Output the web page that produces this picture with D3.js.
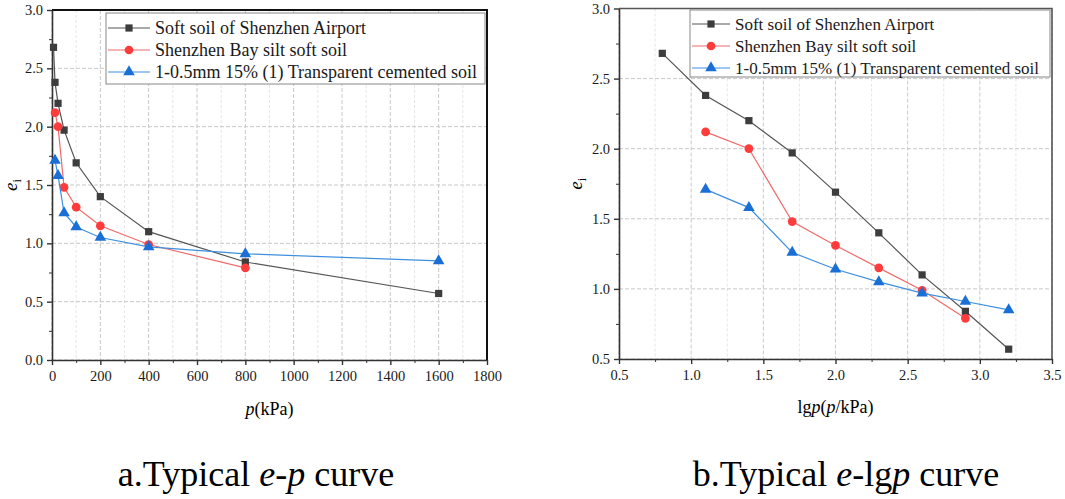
<!DOCTYPE html>
<html>
<head>
<meta charset="utf-8">
<script src="https://d3js.org/d3.v7.min.js"></script>
<style>
  body { margin: 0; background: #fff; }
</style>
</head>
<body>
<div id="chart"></div>
<script>
// load steps (kPa) and their lg values
var pressure = [6.25, 12.5, 25, 50, 100, 200, 400, 800, 1600];
var lgPressure = [0.8, 1.1, 1.4, 1.7, 2.0, 2.3, 2.6, 2.9, 3.2];

// void ratio e_i for each series (null = not measured)
var airportE = [2.68, 2.38, 2.20, 1.97, 1.69, 1.40, 1.10, 0.84, 0.57];
var bayE = [null, 2.12, 2.00, 1.48, 1.31, 1.15, 0.99, 0.79, null];
var cementedE = [null, 1.71, 1.58, 1.26, 1.14, 1.05, 0.97, 0.91, 0.85];

var seriesNames = [
    "Soft soil of Shenzhen Airport",
    "Shenzhen Bay silt soft soil",
    "1-0.5mm 15% (1) Transparent cemented soil"
];

var leftXTicks = [0, 200, 400, 600, 800, 1000, 1200, 1400, 1600, 1800];
var leftYTicks = [0.0, 0.5, 1.0, 1.5, 2.0, 2.5, 3.0];
var rightXTicks = [0.5, 1.0, 1.5, 2.0, 2.5, 3.0, 3.5];
var rightYTicks = [0.5, 1.0, 1.5, 2.0, 2.5, 3.0];

var svgWidth = 1065;
var svgHeight = 499;
var serif = "'Liberation Serif', 'Times New Roman', serif";

var styles = [
    { line: "#555555", fill: "#3d3d3d", shape: d3.symbolSquare, size: 52 },
    { line: "#f06a6a", fill: "#ff3c3c", shape: d3.symbolCircle, size: 60 },
    { line: "#3d8fe0", fill: "#1a6fd6", shape: d3.symbolTriangle, size: 58 }
];

var svg = d3.select("#chart")
    .append("svg")
    .attr("width", svgWidth)
    .attr("height", svgHeight)
    .style("font-family", serif);

function drawChart(cfg) {
    var g = svg.append("g");

    var x = d3.scaleLinear().domain(cfg.xDomain).range([cfg.left, cfg.right]);
    var y = d3.scaleLinear().domain(cfg.yDomain).range([cfg.bottom, cfg.top]);

    // Grid lines (minor then major)
    g.selectAll(".xminor")
        .data(cfg.xMinor)
        .enter()
        .append("line")
        .attr("x1", d => x(d)).attr("x2", d => x(d))
        .attr("y1", cfg.top).attr("y2", cfg.bottom)
        .attr("stroke", "#e6e6e6")
        .attr("stroke-dasharray", "3,2");

    g.selectAll(".xgrid")
        .data(cfg.xTicks)
        .enter()
        .append("line")
        .attr("x1", d => x(d)).attr("x2", d => x(d))
        .attr("y1", cfg.top).attr("y2", cfg.bottom)
        .attr("stroke", "#c8c8c8")
        .attr("stroke-dasharray", "4,2");

    g.selectAll(".ygrid")
        .data(cfg.yTicks)
        .enter()
        .append("line")
        .attr("x1", cfg.left).attr("x2", cfg.right)
        .attr("y1", d => y(d)).attr("y2", d => y(d))
        .attr("stroke", "#c8c8c8")
        .attr("stroke-dasharray", "4,2");

    // Top and right frame
    g.append("path")
        .attr("d", `M${cfg.left},${cfg.top}H${cfg.right}V${cfg.bottom}`)
        .attr("fill", "none")
        .attr("stroke", cfg.frameColor)
        .attr("stroke-width", cfg.frameWidth);

    // Axes with minor ticks
    g.append("g")
        .attr("transform", `translate(0, ${cfg.bottom})`)
        .call(d3.axisBottom(x).tickValues(cfg.xMinor).tickSize(3).tickFormat(""))
        .call(a => a.select(".domain").remove());
    g.append("g")
        .attr("transform", `translate(${cfg.left}, 0)`)
        .call(d3.axisLeft(y).tickValues(cfg.yMinor).tickSize(3).tickFormat(""))
        .call(a => a.select(".domain").remove());

    var xAxis = g.append("g")
        .attr("transform", `translate(0, ${cfg.bottom})`)
        .call(d3.axisBottom(x).tickValues(cfg.xTicks).tickSize(5).tickSizeOuter(0).tickPadding(6).tickFormat(cfg.xFormat));
    var yAxis = g.append("g")
        .attr("transform", `translate(${cfg.left}, 0)`)
        .call(d3.axisLeft(y).tickValues(cfg.yTicks).tickSize(5).tickSizeOuter(0).tickPadding(4).tickFormat(d3.format(".1f")));

    [xAxis, yAxis].forEach(a => {
        a.attr("font-family", null).attr("font-size", null);
        a.select(".domain").attr("stroke", "#333").attr("stroke-width", 1.6);
        a.selectAll(".tick line").attr("stroke", "#333").attr("stroke-width", 1.4);
        a.selectAll(".tick text")
            .style("font-family", serif)
            .style("font-size", "14.5px")
            .attr("fill", "#1a1a1a");
    });
    g.selectAll(".tick line").attr("stroke", "#333");

    // Series lines and markers
    cfg.series.forEach((vals, i) => {
        var pts = cfg.xs.map((xv, j) => ({ x: xv, e: vals[j] })).filter(d => d.e != null);
        var st = styles[i];
        g.append("path")
            .datum(pts)
            .attr("fill", "none")
            .attr("stroke", st.line)
            .attr("stroke-width", 1.2)
            .attr("d", d3.line().x(d => x(d.x)).y(d => y(d.e)));
        g.selectAll(".m" + i)
            .data(pts)
            .enter()
            .append("path")
            .attr("transform", d => `translate(${x(d.x)}, ${y(d.e)})`)
            .attr("d", d3.symbol().type(st.shape).size(st.size))
            .attr("fill", st.fill);
    });

    // Legend
    var lg = cfg.legend;
    g.append("rect")
        .attr("x", lg.x).attr("y", lg.y)
        .attr("width", lg.w).attr("height", lg.h)
        .attr("fill", "#fff")
        .attr("stroke", "#888")
        .attr("stroke-width", 1);
    seriesNames.forEach((name, i) => {
        var yy = lg.y + lg.first + i * lg.step;
        var st = styles[i];
        g.append("line")
            .attr("x1", lg.x + 2).attr("x2", lg.x + lg.sample)
            .attr("y1", yy).attr("y2", yy)
            .attr("stroke", st.line).attr("stroke-width", 1.2);
        g.append("path")
            .attr("transform", `translate(${lg.x + 2 + (lg.sample - 2) / 2}, ${yy})`)
            .attr("d", d3.symbol().type(st.shape).size(st.size))
            .attr("fill", st.fill);
        g.append("text")
            .attr("x", lg.x + lg.sample + 5)
            .attr("y", yy)
            .attr("dy", "0.35em")
            .style("font-family", serif)
            .style("font-size", lg.font + "px")
            .attr("fill", "#1a1a1a")
            .text(name);
    });

    // y-axis label e_i
    var yl = g.append("text")
        .attr("transform", `translate(${cfg.yLabelX}, ${(cfg.top + cfg.bottom) / 2}) rotate(-90)`)
        .attr("text-anchor", "middle")
        .style("font-family", serif)
        .style("font-size", "19px");
    yl.append("tspan").style("font-style", "italic").text("e");
    yl.append("tspan").attr("dy", 4).style("font-size", "12px").text("i");

    // x-axis label
    var xl = g.append("text")
        .attr("x", (cfg.left + cfg.right) / 2)
        .attr("y", cfg.xLabelY)
        .attr("text-anchor", "middle")
        .style("font-family", serif)
        .style("font-size", "18px");
    cfg.xLabel.forEach(p => {
        xl.append("tspan").style("font-style", p[1] ? "italic" : "normal").text(p[0]);
    });

    // caption
    var cap = g.append("text")
        .attr("x", cfg.captionX)
        .attr("y", 486)
        .attr("text-anchor", "middle")
        .style("font-family", serif)
        .style("font-size", "36px");
    cfg.caption.forEach(p => {
        cap.append("tspan").style("font-style", p[1] ? "italic" : "normal").text(p[0]);
    });
}

// a. e-p curve
drawChart({
    left: 52, right: 487, top: 10, bottom: 360,
    xDomain: [0, 1800], yDomain: [0, 3],
    xTicks: leftXTicks, yTicks: leftYTicks,
    xMinor: d3.range(100, 1800, 200), yMinor: d3.range(0.25, 3, 0.5),
    xFormat: d3.format("d"),
    xs: pressure,
    series: [airportE, bayE, cementedE],
    frameColor: "#111", frameWidth: 2,
    legend: { x: 106, y: 13, w: 379, h: 71, first: 15, step: 22, sample: 44, font: 18 },
    yLabelX: 17,
    xLabelY: 415,
    xLabel: [["p", true], ["(kPa)", false]],
    captionX: 256,
    caption: [["a.Typical ", false], ["e", true], ["-", false], ["p", true], [" curve", false]]
});

// b. e-lgp curve
drawChart({
    left: 619, right: 1052, top: 8.5, bottom: 359,
    xDomain: [0.5, 3.5], yDomain: [0.5, 3],
    xTicks: rightXTicks, yTicks: rightYTicks,
    xMinor: [0.75, 1.25, 1.75, 2.25, 2.75, 3.25], yMinor: [0.75, 1.25, 1.75, 2.25, 2.75],
    xFormat: d3.format(".1f"),
    xs: lgPressure,
    series: [airportE, bayE, cementedE],
    frameColor: "#555", frameWidth: 1.6,
    legend: { x: 690, y: 10, w: 360, h: 67, first: 14, step: 22, sample: 40, font: 17 },
    yLabelX: 582,
    xLabelY: 413,
    xLabel: [["lg", false], ["p", true], ["(", false], ["p", true], ["/kPa)", false]],
    captionX: 846,
    caption: [["b.Typical ", false], ["e", true], ["-lg", false], ["p", true], [" curve", false]]
});
</script>
</body>
</html>
